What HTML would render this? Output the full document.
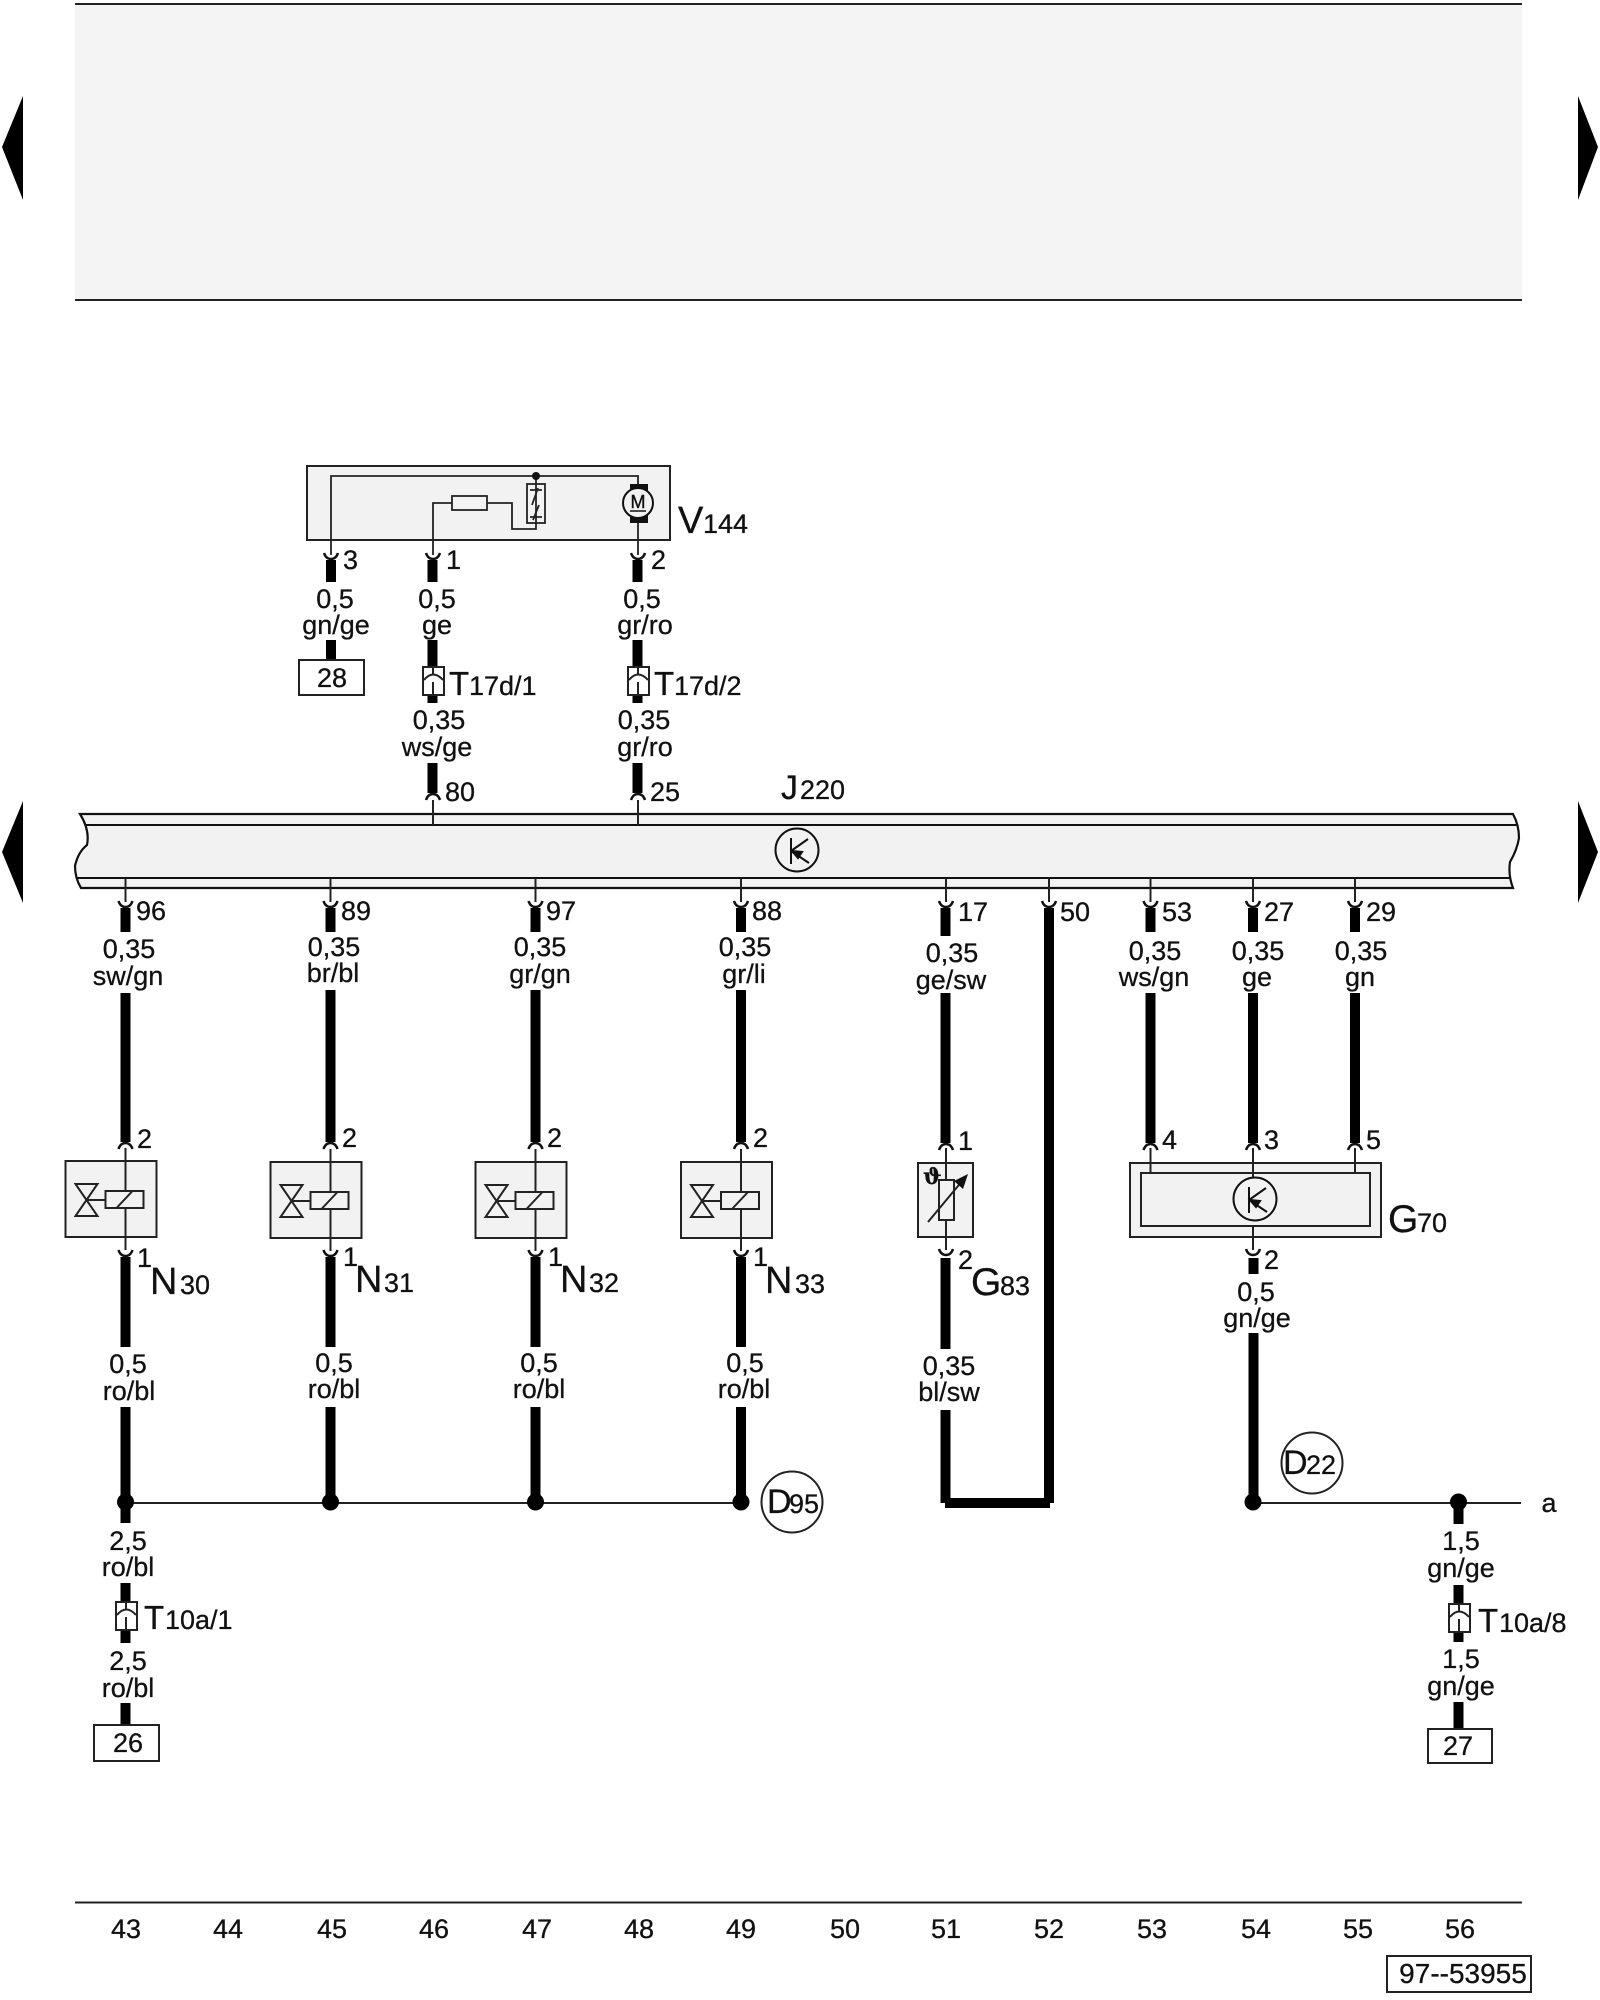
<!DOCTYPE html>
<html><head><meta charset="utf-8"><style>
html,body{margin:0;padding:0;background:#fff}
svg{display:block}
text{font-family:"Liberation Sans",Arial,sans-serif;font-size:27px;fill:#111;stroke:#111;stroke-width:.3px}
.m{text-anchor:middle}
</style></head><body>
<svg width="1600" height="2000" viewBox="0 0 1600 2000" xmlns="http://www.w3.org/2000/svg">
<defs>
<path id="u" d="M-7,-6Q-5,0 0,0Q5,0 7,-6" fill="none" stroke="#111" stroke-width="2.5"/>
<path id="n" d="M-7,6Q-5,0 0,0Q5,0 7,6" fill="none" stroke="#111" stroke-width="2.5"/>
<g id="tc" fill="none" stroke="#222" stroke-width="2">
<rect x="-10" y="0" width="21" height="28" fill="#fff"/>
<path d="M0,0V7M-9,13Q0,2 10,13M0,15V28"/>
</g>
<g id="nv" stroke="#222" stroke-width="2" fill="none">
<rect x="-60" y="0" width="91" height="76" fill="#f2f2f2"/>
<path d="M0,-13V30M0,47V89"/>
<rect x="-20" y="30" width="38" height="17" fill="#f2f2f2"/>
<path d="M-9,47L7,30M-39,39H-20M-50,23H-28L-50,55H-28Z"/>
</g>
<g id="tr" fill="none" stroke="#111" stroke-width="2">
<circle cx="0" cy="0" r="21.500"/>
<path d="M-6,-12V14M-6,1L11,-11M-6,1L12,13"/>
<path d="M-5,1L5,2L1,8Z" fill="#111"/>
</g>
</defs>

<!-- header block -->
<rect x="75" y="4" width="1447" height="296" fill="#f4f4f4"/>
<path d="M75,4H1522M75,300H1522" stroke="#222" stroke-width="2"/>
<path d="M23,96V200L2,147ZM23,801V903L2,852ZM1578,96V200L1598,147ZM1578,801V903L1598,852Z" fill="#000"/>

<!-- J220 bar -->
<path d="M80,814H1513Q1519,825 1519,838Q1517,850 1510,862Q1508,875 1513,888H81Q75,878 75,866Q78,852 87,845Q90,830 80,814Z" fill="#f2f2f2" stroke="#111" stroke-width="2.2"/>
<path d="M85,825H1518M77,878H1510" stroke="#111" stroke-width="2"/>
<use href="#tr" x="797" y="850"/>
<text x="781" y="799" style="font-size:34px">J</text><text x="800" y="799">220</text>

<!-- V144 -->
<rect x="307" y="466" width="363" height="74" fill="#f2f2f2" stroke="#222" stroke-width="2"/>
<g fill="none" stroke="#222" stroke-width="1.8">
<path d="M331,555V476H638V484M638,523V555"/>
<path d="M433,555V503H452M487,503H512V529H536V476"/>
<rect x="452" y="496" width="35" height="14" fill="#f2f2f2"/>
<rect x="527" y="484" width="18" height="39"/>
<path d="M530,490H542M530,517H542M532,505L538,488M533,520L539,505"/>
</g>
<circle cx="536" cy="476" r="4" fill="#111"/>
<path d="M630,484H648V492H630ZM630,514H648V523H630Z" fill="#111"/>
<circle cx="638" cy="503" r="15" fill="#f2f2f2" stroke="#111" stroke-width="2"/>
<text x="638" y="508" class="m" style="font-size:18px;stroke-width:.4px">M</text>
<path d="M630,511H646" stroke="#111" stroke-width="1.5"/>
<text x="678" y="533" style="font-size:38px">V</text><text x="703" y="533">144</text>

<!-- heavy wires -->
<g stroke="#000" stroke-width="10" fill="none">
<path d="M331,560V582M331,640V660M432.5,560V582M432.5,640V667M432.5,695V703M432.5,763V793M637.5,560V582M637.5,640V667M637.5,695V703M637.5,763V793"/>
<path d="M125.5,908V932M125.5,993V1142M125.5,1257V1347M125.5,1407V1523M125.5,1583V1602M125.5,1631V1643M125.5,1703V1725"/>
<path d="M330.5,908V932M330.5,990V1142M330.5,1257V1347M330.5,1407V1503"/>
<path d="M535.5,908V932M535.5,990V1142M535.5,1257V1347M535.5,1407V1503"/>
<path d="M741,908V932M741,990V1142M741,1257V1347M741,1407V1503"/>
<path d="M945.5,908V936M945.5,993V1143M945.5,1258V1349M945.5,1410V1503"/>
<path d="M1049,908V1503"/>
<path d="M945,1503H1050"/>
<path d="M1150.5,908V932M1150.5,993V1143"/>
<path d="M1253,908V932M1253,993V1143M1253.5,1258V1274M1253.5,1333V1503"/>
<path d="M1355,908V932M1355,993V1143"/>
<path d="M1458.5,1503V1524M1458.5,1585V1604M1458.5,1633V1642M1458.5,1702V1729"/>
</g>

<!-- thin wires -->
<g stroke="#222" stroke-width="2" fill="none">
<path d="M433,800V825M638,800V825"/>
<path d="M125.5,878V902M330.5,878V902M535.5,878V902M741,878V902M946,878V902M1049,878V902M1150.5,878V902M1253,878V902M1355,878V902"/>
<path d="M125,1503H741M1253,1503H1521"/>
<path d="M75,1902.5H1522"/>
</g>

<!-- pin cups -->
<use href="#u" x="331" y="559"/><use href="#u" x="433" y="559"/><use href="#u" x="638" y="559"/>
<use href="#n" x="433" y="794"/><use href="#n" x="638" y="794"/>
<use href="#u" x="125.5" y="907"/><use href="#u" x="330.5" y="907"/><use href="#u" x="535.5" y="907"/><use href="#u" x="741" y="907"/><use href="#u" x="946" y="907"/><use href="#u" x="1049" y="907"/><use href="#u" x="1150.5" y="907"/><use href="#u" x="1253" y="907"/><use href="#u" x="1355" y="907"/>
<use href="#n" x="125.5" y="1143"/><use href="#n" x="330.5" y="1143"/><use href="#n" x="535.5" y="1143"/><use href="#n" x="741" y="1143"/>
<use href="#u" x="125.5" y="1256"/><use href="#u" x="330.5" y="1256"/><use href="#u" x="535.5" y="1256"/><use href="#u" x="741" y="1256"/>
<use href="#n" x="946" y="1144"/><use href="#n" x="1150.5" y="1144"/><use href="#n" x="1253" y="1144"/><use href="#n" x="1355" y="1144"/>
<use href="#u" x="946" y="1255"/><use href="#u" x="1253" y="1255"/>

<!-- solenoid valves -->
<use href="#nv" x="125.5" y="1161"/>
<use href="#nv" x="330.5" y="1162"/>
<use href="#nv" x="535.5" y="1162"/>
<use href="#nv" x="741" y="1162"/>

<!-- G83 -->
<g stroke="#222" stroke-width="2" fill="none">
<rect x="918" y="1163" width="55" height="74" fill="#f2f2f2"/>
<path d="M946,1148V1180M946,1220V1250"/>
<rect x="939" y="1180" width="15" height="40" fill="#f2f2f2"/>
<path d="M928,1222L963,1180"/>
</g>
<path d="M968,1174L954,1181L963,1189Z" fill="#111"/>
<text x="923" y="1184" style="font-size:22px;font-family:'DejaVu Serif',serif;font-weight:bold">ϑ</text>

<!-- G70 -->
<rect x="1130" y="1163" width="251" height="74" fill="#f2f2f2" stroke="#222" stroke-width="2"/>
<rect x="1141" y="1173" width="229" height="53" fill="#f2f2f2" stroke="#222" stroke-width="2"/>
<path d="M1150.5,1148V1173M1253,1148V1178M1355,1148V1173M1253,1226V1250" stroke="#222" stroke-width="2"/>
<use href="#tr" x="1255" y="1199"/>

<!-- bus dots -->
<g fill="#000">
<circle cx="125.500" cy="1502" r="8.500"/><circle cx="330.500" cy="1502" r="8.500"/><circle cx="535.500" cy="1502" r="8.500"/><circle cx="741" cy="1502" r="8.500"/><circle cx="1253" cy="1502" r="8.500"/><circle cx="1458.500" cy="1502" r="8.500"/>
</g>

<!-- D circles -->
<circle cx="792" cy="1502" r="30.500" fill="#fff" stroke="#222" stroke-width="2"/>
<text x="767" y="1513" style="font-size:34px">D</text><text x="789" y="1513">95</text>
<circle cx="1312" cy="1463" r="30.500" fill="#fff" stroke="#222" stroke-width="2"/>
<text x="1283" y="1474" style="font-size:34px">D</text><text x="1306" y="1474">22</text>

<!-- T connectors -->
<use href="#tc" x="433" y="667"/><use href="#tc" x="638" y="667"/>
<use href="#tc" x="126" y="1602"/><use href="#tc" x="1459" y="1604"/>

<!-- terminal boxes -->
<g fill="#fff" stroke="#222" stroke-width="2">
<rect x="299" y="660" width="65" height="35"/>
<rect x="94" y="1725" width="65" height="36"/>
<rect x="1428" y="1729" width="64" height="34"/>
<rect x="1387" y="1956" width="144" height="36"/>
</g>
<text x="332" y="687" class="m">28</text>
<text x="128" y="1752" class="m">26</text>
<text x="1458" y="1755" class="m">27</text>
<text x="1463" y="1983" class="m" style="font-size:28px">97--53955</text>

<!-- pin numbers -->
<text x="343" y="569">3</text><text x="446" y="569">1</text><text x="651" y="569">2</text>
<text x="445" y="801">80</text><text x="650" y="801">25</text>
<text x="136" y="920">96</text><text x="341" y="920">89</text><text x="546" y="920">97</text><text x="752" y="920">88</text><text x="958" y="921">17</text><text x="1060" y="921">50</text><text x="1162" y="921">53</text><text x="1264" y="921">27</text><text x="1366" y="921">29</text>
<text x="137" y="1148">2</text><text x="342" y="1147">2</text><text x="547" y="1147">2</text><text x="753" y="1147">2</text>
<text x="958" y="1150">1</text><text x="1162" y="1149">4</text><text x="1264" y="1149">3</text><text x="1366" y="1149">5</text>
<text x="137" y="1267">1</text><text x="343" y="1266">1</text><text x="548" y="1266">1</text><text x="753" y="1266">1</text>
<text x="958" y="1269">2</text><text x="1264" y="1269">2</text>

<!-- component labels -->
<text x="150" y="1294" style="font-size:38px">N</text><text x="180" y="1294">30</text>
<text x="355" y="1292" style="font-size:38px">N</text><text x="384" y="1292">31</text>
<text x="560" y="1292" style="font-size:38px">N</text><text x="589" y="1292">32</text>
<text x="765" y="1293" style="font-size:38px">N</text><text x="795" y="1293">33</text>
<text x="971" y="1295" style="font-size:39px">G</text><text x="1000" y="1295">83</text>
<text x="1388" y="1232" style="font-size:39px">G</text><text x="1417" y="1232">70</text>
<text x="449" y="695" style="font-size:33px">T</text><text x="469" y="695">17d/1</text>
<text x="654" y="695" style="font-size:33px">T</text><text x="674" y="695">17d/2</text>
<text x="144" y="1629" style="font-size:33px">T</text><text x="165" y="1629">10a/1</text>
<text x="1478" y="1632" style="font-size:33px">T</text><text x="1499" y="1632">10a/8</text>

<!-- wire labels -->
<g class="m" text-anchor="middle">
<text x="335" y="608">0,5</text><text x="336" y="634">gn/ge</text>
<text x="437" y="608">0,5</text><text x="437" y="634">ge</text>
<text x="642" y="608">0,5</text><text x="645" y="634">gr/ro</text>
<text x="439" y="729">0,35</text><text x="437" y="756">ws/ge</text>
<text x="644" y="729">0,35</text><text x="645" y="756">gr/ro</text>

<text x="129" y="958">0,35</text><text x="128" y="985">sw/gn</text>
<text x="334" y="956">0,35</text><text x="333" y="982">br/bl</text>
<text x="540" y="956">0,35</text><text x="540" y="983">gr/gn</text>
<text x="745" y="956">0,35</text><text x="744" y="983">gr/li</text>
<text x="952" y="962">0,35</text><text x="951" y="989">ge/sw</text>
<text x="1155" y="960">0,35</text><text x="1154" y="986">ws/gn</text>
<text x="1258" y="960">0,35</text><text x="1257" y="986">ge</text>
<text x="1361" y="960">0,35</text><text x="1360" y="986">gn</text>

<text x="128" y="1373">0,5</text><text x="129" y="1400">ro/bl</text>
<text x="334" y="1372">0,5</text><text x="334" y="1398">ro/bl</text>
<text x="539" y="1372">0,5</text><text x="539" y="1398">ro/bl</text>
<text x="745" y="1372">0,5</text><text x="744" y="1398">ro/bl</text>
<text x="949" y="1375">0,35</text><text x="949" y="1401">bl/sw</text>
<text x="1256" y="1301">0,5</text><text x="1257" y="1327">gn/ge</text>

<text x="128" y="1550">2,5</text><text x="128" y="1576">ro/bl</text>
<text x="128" y="1670">2,5</text><text x="128" y="1697">ro/bl</text>
<text x="1461" y="1550">1,5</text><text x="1461" y="1577">gn/ge</text>
<text x="1461" y="1668">1,5</text><text x="1461" y="1695">gn/ge</text>
<text x="1549" y="1512">a</text>

<text x="126" y="1938">43</text><text x="228" y="1938">44</text><text x="332" y="1938">45</text><text x="434" y="1938">46</text><text x="537" y="1938">47</text><text x="639" y="1938">48</text><text x="741" y="1938">49</text><text x="845" y="1938">50</text><text x="946" y="1938">51</text><text x="1049" y="1938">52</text><text x="1152" y="1938">53</text><text x="1256" y="1938">54</text><text x="1358" y="1938">55</text><text x="1460" y="1938">56</text>
</g>
</svg>
</body></html>
